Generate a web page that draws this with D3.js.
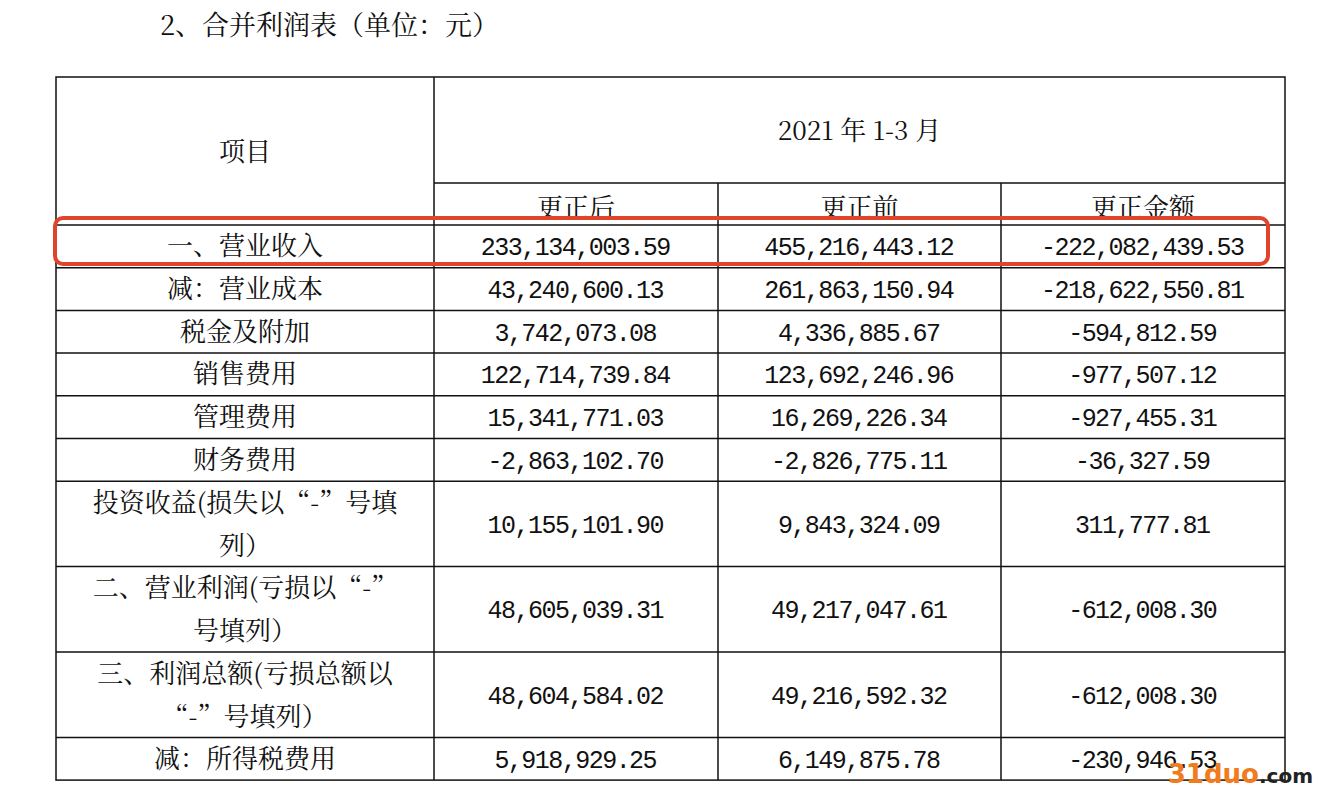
<!DOCTYPE html>
<html><head><meta charset="utf-8">
<script src="https://cdn.jsdelivr.net/npm/d3@7"></script>
<style>body{margin:0;background:#fff}</style>
</head><body>
<svg id="t" width="1332" height="796"></svg>
<script>
// --- Data ---
const title = "2、合并利润表（单位：元）";
const period = "2021 年 1-3 月";
const columns = ["更正后", "更正前", "更正金额"];
const items = [
  ["一、营业收入"], ["减：营业成本"], ["税金及附加"], ["销售费用"], ["管理费用"], ["财务费用"],
  ["投资收益(损失以“-”号填", "列）"], ["二、营业利润(亏损以“-”", "号填列）"],
  ["三、利润总额(亏损总额以", "“-”号填列）"], ["减：所得税费用"]
];
const after = ["233,134,003.59","43,240,600.13","3,742,073.08","122,714,739.84","15,341,771.03","-2,863,102.70","10,155,101.90","48,605,039.31","48,604,584.02","5,918,929.25"];
const before = ["455,216,443.12","261,863,150.94","4,336,885.67","123,692,246.96","16,269,226.34","-2,826,775.11","9,843,324.09","49,217,047.61","49,216,592.32","6,149,875.78"];
const diff = ["-222,082,439.53","-218,622,550.81","-594,812.59","-977,507.12","-927,455.31","-36,327.59","311,777.81","-612,008.30","-612,008.30","-230,946.53"];

// --- Layout ---
const svg = d3.select("#t");
const colX = [56, 434, 718, 1001, 1285];
const tableTop = 77, midY = 183, headBottom = 225;
const rowH = 42.7;
let y = headBottom;
const rows = items.map((lab, i) => {
  const h = lab.length > 1 ? rowH * 2 : rowH;
  const r = {lab, vals: [after[i], before[i], diff[i]], y0: y, y1: y + h};
  y += h;
  return r;
});
const tableBottom = y;
const cjk = "'Noto Serif CJK SC','Noto Sans CJK SC',serif";
const fs = 26;

svg.append("text").attr("x", 160).attr("y", 35).attr("font-size", 27)
  .attr("font-family", cjk).attr("fill", "#111").text(title);

const g = svg.append("g").attr("stroke", "#111").attr("stroke-width", 1.5);
g.append("rect").attr("x", colX[0]).attr("y", tableTop).attr("width", colX[4] - colX[0])
  .attr("height", tableBottom - tableTop).attr("fill", "none");
g.append("line").attr("x1", colX[1]).attr("x2", colX[1]).attr("y1", tableTop).attr("y2", tableBottom);
[2, 3].forEach(c => g.append("line").attr("x1", colX[c]).attr("x2", colX[c]).attr("y1", midY).attr("y2", tableBottom));
g.append("line").attr("x1", colX[1]).attr("x2", colX[4]).attr("y1", midY).attr("y2", midY);
rows.forEach(r => g.append("line").attr("x1", colX[0]).attr("x2", colX[4]).attr("y1", r.y0).attr("y2", r.y0));

const txt = svg.append("g").attr("font-family", cjk).attr("font-size", fs).attr("fill", "#111")
  .attr("text-anchor", "middle");
txt.append("text").attr("x", 245).attr("y", 161).text("项目");
txt.append("text").attr("x", (colX[1] + colX[4]) / 2).attr("y", 140).text(period);

// header labels are clipped by the following row line
svg.append("clipPath").attr("id", "hc").append("rect")
  .attr("x", colX[1]).attr("y", midY).attr("width", colX[4] - colX[1]).attr("height", headBottom - midY);
const hd = txt.append("g").attr("clip-path", "url(#hc)");
columns.forEach((c, i) => hd.append("text").attr("x", (colX[i + 1] + colX[i + 2]) / 2).attr("y", 217).text(c));

rows.forEach(r => {
  const cy = (r.y0 + r.y1) / 2;
  if (r.lab.length === 1) {
    txt.append("text").attr("x", 245).attr("y", cy + 9).text(r.lab[0]);
  } else {
    txt.append("text").attr("x", 245).attr("y", cy - 12).text(r.lab[0]);
    txt.append("text").attr("x", 245).attr("y", cy + 31).text(r.lab[1]);
  }
  r.vals.forEach((v, i) => txt.append("text").attr("x", (colX[i + 1] + colX[i + 2]) / 2).attr("y", cy + 9)
    .attr("font-family", "'Liberation Mono','DejaVu Sans Mono',monospace").attr("font-size", 25)
    .attr("textLength", v.length * 13.6).attr("lengthAdjust", "spacing").text(v));
});

// highlight box
svg.append("rect").attr("x", 55).attr("y", 218).attr("width", 1213).attr("height", 46).attr("rx", 8)
  .attr("fill", "none").attr("stroke", "#e0452b").attr("stroke-width", 4);

// watermark
const wm = svg.append("text").attr("x", 1313).attr("y", 783).attr("text-anchor", "end")
  .attr("font-family", "'DejaVu Sans',sans-serif").attr("font-weight", "bold").attr("font-size", 26);
wm.append("tspan").attr("fill", "#f07c1e").text("31duo");
wm.append("tspan").attr("fill", "#222").attr("font-size", 20).text(".com");
</script>
</body></html>
